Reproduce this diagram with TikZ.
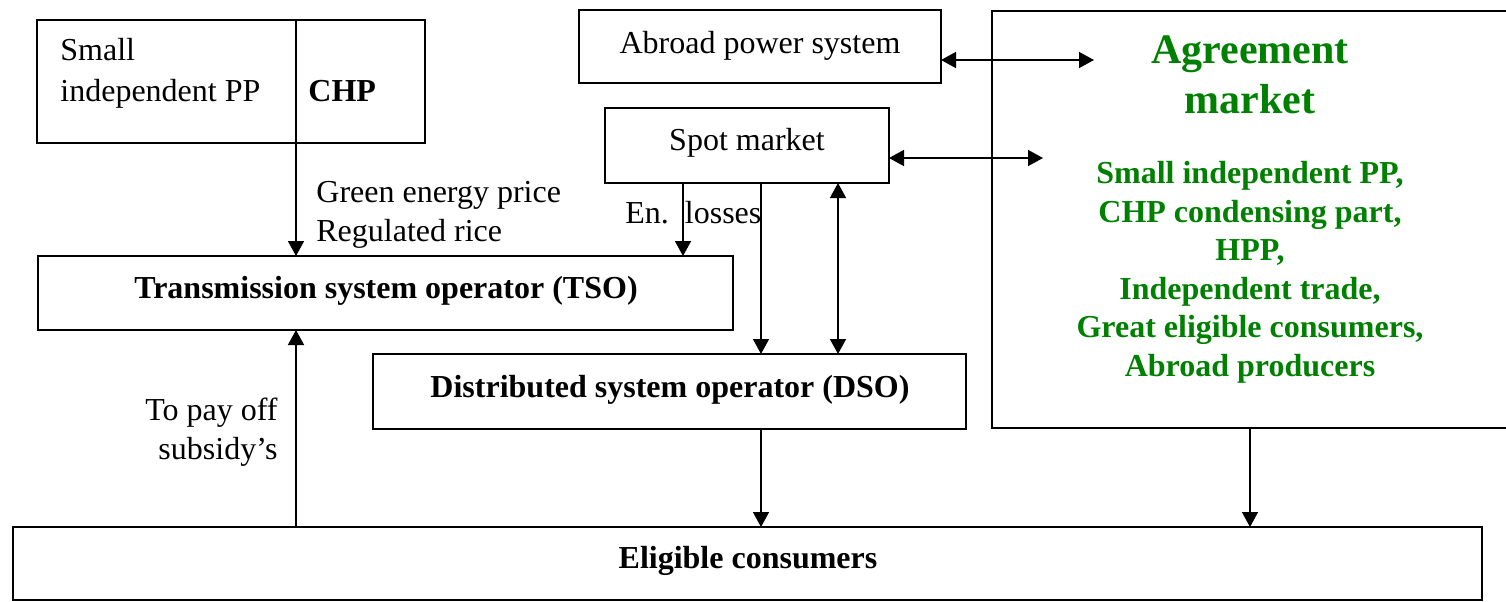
\documentclass[tikz,border=0pt]{standalone}
\usepackage{fontspec}
\setmainfont{Liberation Serif}
\usetikzlibrary{arrows.meta}
\definecolor{agrgreen}{RGB}{0,128,0}
\begin{document}
\begin{tikzpicture}[x=0.5pt,y=-0.5pt,
  box/.style={draw, line width=1pt, inner sep=0pt, outer sep=0pt, rectangle},
  conn/.style={line width=0.75pt, -{Triangle[length=7.5pt,width=8pt]}},
  dconn/.style={line width=0.75pt, {Triangle[length=7.5pt,width=8pt]}-{Triangle[length=7.5pt,width=8pt]}},
  plain/.style={line width=0.75pt},
  txt/.style={anchor=base, inner sep=0pt, font=\fontsize{16}{19.5}\selectfont},
  btxt/.style={anchor=base, inner sep=0pt, font=\fontsize{16}{19.5}\selectfont\bfseries},
  gtxt/.style={anchor=base, inner sep=0pt, text=agrgreen, font=\fontsize{16}{19.5}\selectfont\bfseries},
  gbig/.style={anchor=base, inner sep=0pt, text=agrgreen, font=\fontsize{21}{25}\selectfont\bfseries},
]
\useasboundingbox (0,0) rectangle (1506,601);

% boxes
\node[box, minimum width=194pt, minimum height=61.5pt] (pp) at (231,81.5) {};
\node[box, minimum width=181pt, minimum height=36.5pt] (abroad) at (760,46.5) {};
\node[box, minimum width=142pt, minimum height=37.5pt] (spot) at (747,145.5) {};
\node[box, minimum width=258pt, minimum height=208.5pt] (agr) at (1250,219.5) {};
\node[box, minimum width=347.5pt, minimum height=37pt] (tso) at (385.5,293) {};
\node[box, minimum width=296.5pt, minimum height=37.5pt] (dso) at (669.5,391.5) {};
\node[box, minimum width=734.5pt, minimum height=36.5pt] (cons) at (747.5,563.5) {};

% texts in boxes
\node[txt, anchor=base west] (ppa) at (60,60) {Small};
\node[txt, anchor=base west] (ppb) at (60,101) {independent PP};
\node[btxt, anchor=base west] (chp) at (308,101) {CHP};
\node[txt] (abroadt) at (760,53) {Abroad power system};
\node[txt] (spott) at (747,150) {Spot market};
\node[btxt] (tsot) at (386,298) {Transmission system operator (TSO)};
\node[btxt] (dsot) at (670,397) {Distributed system operator (DSO)};
\node[btxt] (const) at (748,568) {Eligible consumers};

\node[gbig] (agra) at (1250,63) {Agreement};
\node[gbig] (agrb) at (1250,113) {market};
\node[gtxt] (g1) at (1250,183) {Small independent PP,};
\node[gtxt] (g2) at (1250,222) {CHP condensing part,};
\node[gtxt] (g3) at (1250,260) {HPP,};
\node[gtxt] (g4) at (1250,299) {Independent trade,};
\node[gtxt] (g5) at (1250,337) {Great eligible consumers,};
\node[gtxt] (g6) at (1250,376) {Abroad producers};

% connector labels
\node[txt, anchor=base west] (l1) at (316,202) {Green energy price};
\node[txt, anchor=base west] (l2) at (316,241) {Regulated rice};
\node[txt, anchor=base west] (l3) at (625,223) {En.\ \ losses};
\node[txt, anchor=base east] (l4) at (278,420) {To pay off};
\node[txt, anchor=base east] (l5) at (278,459) {subsidy’s};

% helper coordinates
\coordinate (xpp) at (296,0);
\coordinate (xen) at (683,0);
\coordinate (xsd) at (761,0);
\coordinate (xdd) at (838,0);
\coordinate (xag) at (1250,0);
\coordinate (a1) at (1094,60);
\coordinate (s1) at (1043,158);

% divider in the first box
\draw[plain] (pp.north -| xpp) -- (pp.south -| xpp);

% connectors
\draw[conn] (pp.south -| xpp) -- (tso.north -| xpp);
\draw[conn] (cons.north -| xpp) -- (tso.south -| xpp);
\draw[conn] (spot.south -| xen) -- (tso.north -| xen);
\draw[conn] (spot.south -| xsd) -- (dso.north -| xsd);
\draw[dconn] (spot.south -| xdd) -- (dso.north -| xdd);
\draw[conn] (dso.south -| xsd) -- (cons.north -| xsd);
\draw[conn] (agr.south -| xag) -- (cons.north -| xag);
\draw[dconn] (abroad.east |- a1) -- (a1);
\draw[dconn] (spot.east |- s1) -- (s1);
\end{tikzpicture}
\end{document}
